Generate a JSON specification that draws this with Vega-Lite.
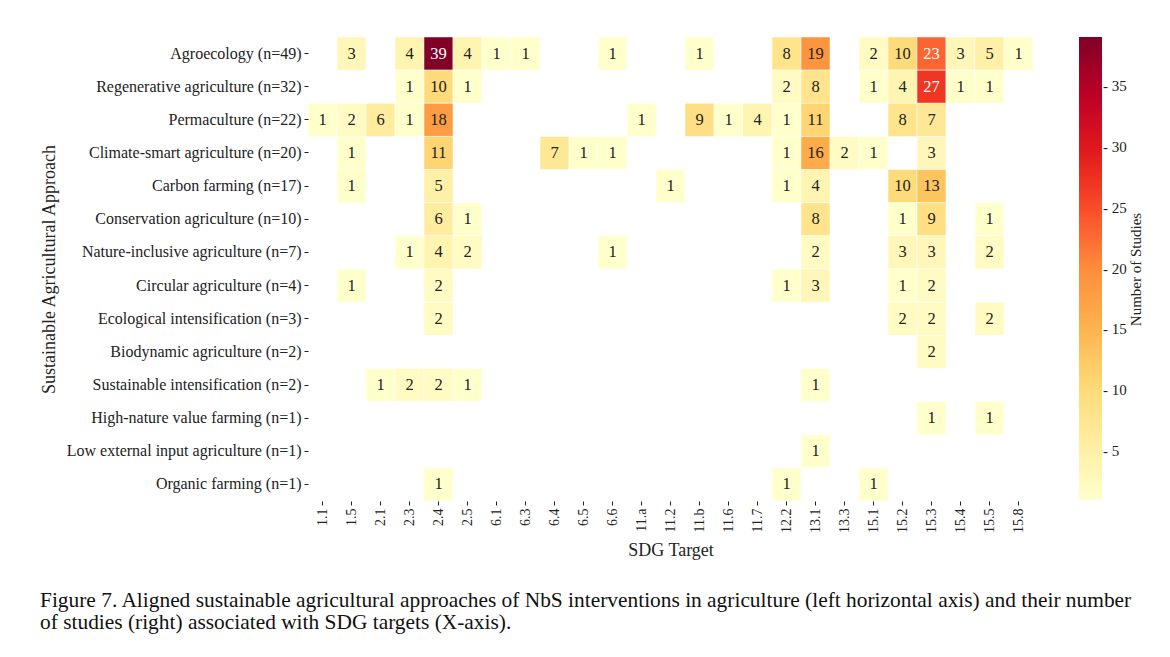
{
  "$schema": "https://vega.github.io/schema/vega-lite/v6.json",
  "width": 725,
  "height": 464,
  "autosize": {"type": "none"},
  "padding": {"left": 308, "top": 37, "right": 137, "bottom": 156},
  "background": "white",
  "config": {
    "font": "Liberation Serif",
    "view": {"stroke": null},
    "axis": {"labelFont": "Liberation Serif", "titleFont": "Liberation Serif", "labelColor": "#222", "titleColor": "#222", "domain": false, "tickColor": "#222", "titleFontWeight": "normal"},
    "legend": {"labelFont": "Liberation Serif", "titleFont": "Liberation Serif"}
  },
  "title": {
    "text": ["Figure 7. Aligned sustainable agricultural approaches of NbS interventions in agriculture (left horizontal axis) and their number", "of studies (right) associated with SDG targets (X-axis)."],
    "orient": "bottom",
    "anchor": "start",
    "frame": "bounds",
    "font": "Liberation Serif",
    "fontSize": 21.4,
    "fontWeight": "normal",
    "color": "#111",
    "lineHeight": 22,
    "offset": 30,
    "dx": 0
  },
  "data": {
    "values": [
      {"approach": "Agroecology (n=49)", "target": "1.5", "n": 3},
      {"approach": "Agroecology (n=49)", "target": "2.3", "n": 4},
      {"approach": "Agroecology (n=49)", "target": "2.4", "n": 39},
      {"approach": "Agroecology (n=49)", "target": "2.5", "n": 4},
      {"approach": "Agroecology (n=49)", "target": "6.1", "n": 1},
      {"approach": "Agroecology (n=49)", "target": "6.3", "n": 1},
      {"approach": "Agroecology (n=49)", "target": "6.6", "n": 1},
      {"approach": "Agroecology (n=49)", "target": "11.b", "n": 1},
      {"approach": "Agroecology (n=49)", "target": "12.2", "n": 8},
      {"approach": "Agroecology (n=49)", "target": "13.1", "n": 19},
      {"approach": "Agroecology (n=49)", "target": "15.1", "n": 2},
      {"approach": "Agroecology (n=49)", "target": "15.2", "n": 10},
      {"approach": "Agroecology (n=49)", "target": "15.3", "n": 23},
      {"approach": "Agroecology (n=49)", "target": "15.4", "n": 3},
      {"approach": "Agroecology (n=49)", "target": "15.5", "n": 5},
      {"approach": "Agroecology (n=49)", "target": "15.8", "n": 1},
      {"approach": "Regenerative agriculture (n=32)", "target": "2.3", "n": 1},
      {"approach": "Regenerative agriculture (n=32)", "target": "2.4", "n": 10},
      {"approach": "Regenerative agriculture (n=32)", "target": "2.5", "n": 1},
      {"approach": "Regenerative agriculture (n=32)", "target": "12.2", "n": 2},
      {"approach": "Regenerative agriculture (n=32)", "target": "13.1", "n": 8},
      {"approach": "Regenerative agriculture (n=32)", "target": "15.1", "n": 1},
      {"approach": "Regenerative agriculture (n=32)", "target": "15.2", "n": 4},
      {"approach": "Regenerative agriculture (n=32)", "target": "15.3", "n": 27},
      {"approach": "Regenerative agriculture (n=32)", "target": "15.4", "n": 1},
      {"approach": "Regenerative agriculture (n=32)", "target": "15.5", "n": 1},
      {"approach": "Permaculture (n=22)", "target": "1.1", "n": 1},
      {"approach": "Permaculture (n=22)", "target": "1.5", "n": 2},
      {"approach": "Permaculture (n=22)", "target": "2.1", "n": 6},
      {"approach": "Permaculture (n=22)", "target": "2.3", "n": 1},
      {"approach": "Permaculture (n=22)", "target": "2.4", "n": 18},
      {"approach": "Permaculture (n=22)", "target": "11.a", "n": 1},
      {"approach": "Permaculture (n=22)", "target": "11.b", "n": 9},
      {"approach": "Permaculture (n=22)", "target": "11.6", "n": 1},
      {"approach": "Permaculture (n=22)", "target": "11.7", "n": 4},
      {"approach": "Permaculture (n=22)", "target": "12.2", "n": 1},
      {"approach": "Permaculture (n=22)", "target": "13.1", "n": 11},
      {"approach": "Permaculture (n=22)", "target": "15.2", "n": 8},
      {"approach": "Permaculture (n=22)", "target": "15.3", "n": 7},
      {"approach": "Climate-smart agriculture (n=20)", "target": "1.5", "n": 1},
      {"approach": "Climate-smart agriculture (n=20)", "target": "2.4", "n": 11},
      {"approach": "Climate-smart agriculture (n=20)", "target": "6.4", "n": 7},
      {"approach": "Climate-smart agriculture (n=20)", "target": "6.5", "n": 1},
      {"approach": "Climate-smart agriculture (n=20)", "target": "6.6", "n": 1},
      {"approach": "Climate-smart agriculture (n=20)", "target": "12.2", "n": 1},
      {"approach": "Climate-smart agriculture (n=20)", "target": "13.1", "n": 16},
      {"approach": "Climate-smart agriculture (n=20)", "target": "13.3", "n": 2},
      {"approach": "Climate-smart agriculture (n=20)", "target": "15.1", "n": 1},
      {"approach": "Climate-smart agriculture (n=20)", "target": "15.3", "n": 3},
      {"approach": "Carbon farming (n=17)", "target": "1.5", "n": 1},
      {"approach": "Carbon farming (n=17)", "target": "2.4", "n": 5},
      {"approach": "Carbon farming (n=17)", "target": "11.2", "n": 1},
      {"approach": "Carbon farming (n=17)", "target": "12.2", "n": 1},
      {"approach": "Carbon farming (n=17)", "target": "13.1", "n": 4},
      {"approach": "Carbon farming (n=17)", "target": "15.2", "n": 10},
      {"approach": "Carbon farming (n=17)", "target": "15.3", "n": 13},
      {"approach": "Conservation agriculture (n=10)", "target": "2.4", "n": 6},
      {"approach": "Conservation agriculture (n=10)", "target": "2.5", "n": 1},
      {"approach": "Conservation agriculture (n=10)", "target": "13.1", "n": 8},
      {"approach": "Conservation agriculture (n=10)", "target": "15.2", "n": 1},
      {"approach": "Conservation agriculture (n=10)", "target": "15.3", "n": 9},
      {"approach": "Conservation agriculture (n=10)", "target": "15.5", "n": 1},
      {"approach": "Nature-inclusive agriculture (n=7)", "target": "2.3", "n": 1},
      {"approach": "Nature-inclusive agriculture (n=7)", "target": "2.4", "n": 4},
      {"approach": "Nature-inclusive agriculture (n=7)", "target": "2.5", "n": 2},
      {"approach": "Nature-inclusive agriculture (n=7)", "target": "6.6", "n": 1},
      {"approach": "Nature-inclusive agriculture (n=7)", "target": "13.1", "n": 2},
      {"approach": "Nature-inclusive agriculture (n=7)", "target": "15.2", "n": 3},
      {"approach": "Nature-inclusive agriculture (n=7)", "target": "15.3", "n": 3},
      {"approach": "Nature-inclusive agriculture (n=7)", "target": "15.5", "n": 2},
      {"approach": "Circular agriculture (n=4)", "target": "1.5", "n": 1},
      {"approach": "Circular agriculture (n=4)", "target": "2.4", "n": 2},
      {"approach": "Circular agriculture (n=4)", "target": "12.2", "n": 1},
      {"approach": "Circular agriculture (n=4)", "target": "13.1", "n": 3},
      {"approach": "Circular agriculture (n=4)", "target": "15.2", "n": 1},
      {"approach": "Circular agriculture (n=4)", "target": "15.3", "n": 2},
      {"approach": "Ecological intensification (n=3)", "target": "2.4", "n": 2},
      {"approach": "Ecological intensification (n=3)", "target": "15.2", "n": 2},
      {"approach": "Ecological intensification (n=3)", "target": "15.3", "n": 2},
      {"approach": "Ecological intensification (n=3)", "target": "15.5", "n": 2},
      {"approach": "Biodynamic agriculture (n=2)", "target": "15.3", "n": 2},
      {"approach": "Sustainable intensification (n=2)", "target": "2.1", "n": 1},
      {"approach": "Sustainable intensification (n=2)", "target": "2.3", "n": 2},
      {"approach": "Sustainable intensification (n=2)", "target": "2.4", "n": 2},
      {"approach": "Sustainable intensification (n=2)", "target": "2.5", "n": 1},
      {"approach": "Sustainable intensification (n=2)", "target": "13.1", "n": 1},
      {"approach": "High-nature value farming (n=1)", "target": "15.3", "n": 1},
      {"approach": "High-nature value farming (n=1)", "target": "15.5", "n": 1},
      {"approach": "Low external input agriculture (n=1)", "target": "13.1", "n": 1},
      {"approach": "Organic farming (n=1)", "target": "2.4", "n": 1},
      {"approach": "Organic farming (n=1)", "target": "12.2", "n": 1},
      {"approach": "Organic farming (n=1)", "target": "15.1", "n": 1}
    ]
  },
  "encoding": {
    "x": {
      "field": "target",
      "type": "nominal",
      "sort": ["1.1", "1.5", "2.1", "2.3", "2.4", "2.5", "6.1", "6.3", "6.4", "6.5", "6.6", "11.a", "11.2", "11.b", "11.6", "11.7", "12.2", "13.1", "13.3", "15.1", "15.2", "15.3", "15.4", "15.5", "15.8"],
      "scale": {"paddingInner": 0, "paddingOuter": 0},
      "axis": {"title": "SDG Target", "labelAngle": -90, "labelFontSize": 14, "titleFontSize": 18, "tickSize": 4, "labelPadding": 3, "titlePadding": 9}
    }
  },
  "layer": [
    {
      "mark": {"type": "rect", "stroke": "white", "strokeWidth": 0.5},
      "encoding": {
        "y": {
          "field": "approach",
          "type": "nominal",
          "sort": ["Agroecology (n=49)", "Regenerative agriculture (n=32)", "Permaculture (n=22)", "Climate-smart agriculture (n=20)", "Carbon farming (n=17)", "Conservation agriculture (n=10)", "Nature-inclusive agriculture (n=7)", "Circular agriculture (n=4)", "Ecological intensification (n=3)", "Biodynamic agriculture (n=2)", "Sustainable intensification (n=2)", "High-nature value farming (n=1)", "Low external input agriculture (n=1)", "Organic farming (n=1)"],
          "scale": {"paddingInner": 0, "paddingOuter": 0},
          "axis": {"title": "Sustainable Agricultural Approach", "labelFontSize": 16, "titleFontSize": 18, "tickSize": 4, "labelPadding": 3, "labelLimit": 300, "titlePadding": 50}
        },
        "color": {
          "field": "n",
          "type": "quantitative",
          "scale": {
            "domain": [1, 5.75, 10.5, 15.25, 20, 24.75, 29.5, 34.25, 39],
            "range": ["#ffffcc", "#ffeda0", "#fed976", "#feb24c", "#fd8d3c", "#fc4e2a", "#e31a1c", "#bd0026", "#800026"],
            "interpolate": "rgb"
          },
          "legend": {
            "title": null,
            "orient": "none",
            "legendX": 771,
            "legendY": 0,
            "direction": "vertical",
            "gradientLength": 463,
            "gradientThickness": 23,
            "gradientStrokeWidth": 0,
            "values": [5, 10, 15, 20, 25, 30, 35],
            "labelExpr": "'- ' + datum.label",
            "labelFontSize": 15,
            "labelColor": "#222",
            "labelOffset": 1
          }
        }
      }
    },
    {
      "mark": {"type": "text", "font": "Liberation Serif", "fontSize": 16.5},
      "encoding": {
        "y": {
          "field": "approach",
          "type": "nominal",
          "sort": ["Agroecology (n=49)", "Regenerative agriculture (n=32)", "Permaculture (n=22)", "Climate-smart agriculture (n=20)", "Carbon farming (n=17)", "Conservation agriculture (n=10)", "Nature-inclusive agriculture (n=7)", "Circular agriculture (n=4)", "Ecological intensification (n=3)", "Biodynamic agriculture (n=2)", "Sustainable intensification (n=2)", "High-nature value farming (n=1)", "Low external input agriculture (n=1)", "Organic farming (n=1)"],
          "axis": {"orient": "right", "title": "Number of Studies", "labels": false, "ticks": false, "domain": false, "offset": 110, "titlePadding": 0, "titleAngle": 270, "titleFontSize": 15}
        },
        "text": {"field": "n", "type": "quantitative"},
        "color": {"condition": {"test": "datum.n > 21", "value": "white"}, "value": "#222"}
      }
    }
  ],
  "resolve": {"axis": {"y": "independent"}}
}
